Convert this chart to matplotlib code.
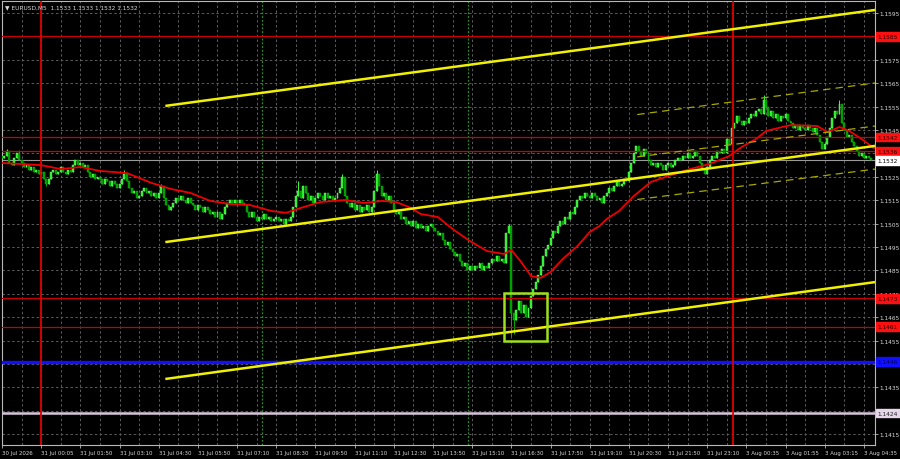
import numpy as np
import matplotlib
matplotlib.use('Agg')
import matplotlib.pyplot as plt
import matplotlib.transforms as mtransforms
from matplotlib.patches import Rectangle

#-------------------------------------------------------------------------------
# EURUSD M5 closes, one value per bar
closes = [
    1.1533, 1.1534, 1.1536, 1.1531, 1.1530, 1.1533, 1.1535, 1.1532,
    1.1531, 1.1529, 1.1530, 1.1528, 1.1529, 1.1527, 1.1528, 1.1526,
    1.1527, 1.1524, 1.1522, 1.1524,
    1.1527, 1.1528, 1.1526, 1.1527, 1.1529, 1.1527, 1.1526, 1.1528, 1.1527,
    1.1530, 1.1532, 1.1530, 1.1531, 1.1529, 1.1530,
    1.1527, 1.1525, 1.1526, 1.1524, 1.1525,
    1.1524, 1.1522, 1.1524, 1.1523, 1.1521, 1.1523, 1.1522, 1.1520, 1.1522, 1.1524, 1.1526, 1.1523,
    1.1520, 1.1518, 1.1519, 1.1516, 1.1517,
    1.1519, 1.1520, 1.1518, 1.1519, 1.1517, 1.1518, 1.1516, 1.1518, 1.1521,
    1.1516, 1.1513, 1.1511, 1.1512,
    1.1514, 1.1516, 1.1515, 1.1517, 1.1515, 1.1514, 1.1516, 1.1514,
    1.1513, 1.1511, 1.1513, 1.1512, 1.1510, 1.1512, 1.1511, 1.1509,
    1.1510, 1.1508, 1.1510, 1.1507, 1.1509, 1.1512,
    1.1514, 1.1515, 1.1514, 1.1515, 1.1514, 1.1515, 1.1514, 1.1513,
    1.1510, 1.1508, 1.1510,
    1.1508, 1.1506, 1.1508, 1.1507, 1.1509, 1.1507, 1.1508, 1.1506,
    1.1507, 1.1508, 1.1506, 1.1507, 1.1505, 1.1507, 1.1506, 1.1508,
    1.1512, 1.1517, 1.1519,
    1.1516, 1.1521, 1.1518, 1.1515, 1.1517, 1.1514, 1.1516, 1.1518,
    1.1517, 1.1515, 1.1518, 1.1516, 1.1517, 1.1515, 1.1516, 1.1518,
    1.1520, 1.1525, 1.1517,
    1.1514, 1.1512, 1.1514, 1.1511, 1.1513, 1.1510, 1.1512, 1.1511, 1.1513, 1.1510, 1.1512,
    1.1519, 1.1526, 1.1521, 1.1517,
    1.1518, 1.1515, 1.1517, 1.1514,
    1.1511, 1.1509, 1.1510, 1.1507, 1.1508, 1.1505, 1.1506,
    1.1504, 1.1506, 1.1503, 1.1505, 1.1503, 1.1504, 1.1502, 1.1504, 1.1505, 1.1503, 1.1502,
    1.1500, 1.1501, 1.1498, 1.1496, 1.1497, 1.1494,
    1.1493, 1.1491, 1.1492, 1.1489, 1.1487, 1.1488, 1.1485,
    1.1487, 1.1485, 1.1487, 1.1486, 1.1488, 1.1485, 1.1487, 1.1486,
    1.1488, 1.1490, 1.1489, 1.1491, 1.1489, 1.1490, 1.1488,
    1.1501, 1.1504, 1.1467,
    1.1464, 1.1468, 1.1472, 1.1467, 1.1470, 1.1465,
    1.1469, 1.1474, 1.1477, 1.1480,
    1.1483, 1.1487, 1.1491, 1.1494,
    1.1496, 1.1499, 1.1502, 1.1501, 1.1504, 1.1506, 1.1505, 1.1508,
    1.1507, 1.1510, 1.1509, 1.1512,
    1.1515, 1.1517, 1.1516, 1.1518, 1.1517, 1.1516, 1.1518, 1.1517, 1.1515,
    1.1516, 1.1514, 1.1517, 1.1518,
    1.1520, 1.1519, 1.1521, 1.1523, 1.1521, 1.1522, 1.1524, 1.1523,
    1.1527, 1.1531,
    1.1535, 1.1538, 1.1536, 1.1534, 1.1537, 1.1535,
    1.1532, 1.1530, 1.1531, 1.1529, 1.1531, 1.1530, 1.1528, 1.1530, 1.1531, 1.1529, 1.1530, 1.1532,
    1.1533, 1.1532, 1.1534, 1.1533, 1.1535, 1.1533, 1.1534, 1.1536, 1.1534,
    1.1531, 1.1528, 1.1526, 1.1529,
    1.1532, 1.1534, 1.1533, 1.1536, 1.1535, 1.1537,
    1.1535, 1.1541, 1.1539, 1.1546,
    1.1548, 1.1551, 1.1549, 1.1547, 1.1549, 1.1548, 1.1550,
    1.1552, 1.1551, 1.1553, 1.1554, 1.1552,
    1.1558, 1.1555,
    1.1551, 1.1553, 1.1550, 1.1552, 1.1549, 1.1551, 1.1550, 1.1552, 1.1549,
    1.1548, 1.1546, 1.1547, 1.1545, 1.1547, 1.1546, 1.1545, 1.1547, 1.1546, 1.1544, 1.1546,
    1.1543, 1.1540, 1.1537, 1.1539, 1.1542,
    1.1546, 1.1550, 1.1553, 1.1552, 1.1556,
    1.1548, 1.1545, 1.1542, 1.1543, 1.1540,
    1.1538, 1.1536, 1.1534, 1.1535,
    1.1533, 1.1534, 1.1533, 1.1532,
]
first_open = 1.1534

# wick extremes that stick out past the bodies
spike_hi = {2: 1.1537, 7: 1.15365, 50: 1.1528, 65: 1.1522, 121: 1.1523, 139: 1.1526,
            153: 1.1528, 207: 1.1505, 311: 1.1560, 342: 1.1558}
spike_lo = {18: 1.1521, 208: 1.1457, 209: 1.1458}

# moving average (red), read at sample bars
ma_bars = [0, 16, 24, 32, 40, 51, 61, 69, 77, 85, 93, 101, 110, 116, 122, 130, 140, 148,
           155, 161, 167, 171, 178, 184, 191, 198, 205, 208, 212, 216, 220, 224, 229, 235,
           240, 244, 247, 252, 258, 265, 272, 281, 289, 297, 302, 308, 312, 322, 333, 337,
           342, 346, 351, 356]
ma_vals = [1.15309, 1.15300, 1.15283, 1.15292, 1.15275, 1.15266, 1.15224, 1.15198, 1.15181,
           1.15147, 1.15134, 1.15130, 1.15104, 1.15096, 1.15117, 1.15142, 1.15151, 1.15138,
           1.15147, 1.15142, 1.15117, 1.15091, 1.15078, 1.15027, 1.14976, 1.14933, 1.14920,
           1.14937, 1.14886, 1.14826, 1.14818, 1.14843, 1.14899, 1.14954, 1.15014, 1.15040,
           1.15070, 1.15104, 1.15168, 1.15228, 1.15253, 1.15283, 1.15305, 1.15339, 1.15377,
           1.15412, 1.15446, 1.15471, 1.15467, 1.15441, 1.15463, 1.15446, 1.15412, 1.15373]

# axis labels
time_labels = ["30 Jul 2026", "31 Jul 00:05", "31 Jul 01:50", "31 Jul 03:10", "31 Jul 04:30",
               "31 Jul 05:50", "31 Jul 07:10", "31 Jul 08:30", "31 Jul 09:50", "31 Jul 11:10",
               "31 Jul 12:30", "31 Jul 13:50", "31 Jul 15:10", "31 Jul 16:30", "31 Jul 17:50",
               "31 Jul 19:10", "31 Jul 20:30", "31 Jul 21:50", "31 Jul 23:10", "3 Aug 00:35",
               "3 Aug 01:55", "3 Aug 03:15", "3 Aug 04:35"]
price_ticks = [1.1415, 1.1425, 1.1435, 1.1445, 1.1455, 1.1465, 1.1475, 1.1485, 1.1495, 1.1505,
               1.1515, 1.1525, 1.1535, 1.1545, 1.1555, 1.1565, 1.1575, 1.1585, 1.1595]
# scale labels hidden behind the level boxes
covered_ticks = [1.1425, 1.1445, 1.1535, 1.1585]

# horizontal levels: price, line colour, box colour, text colour
levels = [
    (1.1585, '#c80000', '#ff1010', '#200000'),
    (1.1542, '#d00000', '#ff1010', '#200000'),
    (1.1536, '#d00000', '#ff1010', '#200000'),
    (1.1473, '#c80000', '#ff1010', '#200000'),
    (1.1461, '#c80000', '#ff1010', '#200000'),
]
blue_level = 1.1446
lilac_level = 1.1424
bid_price = 1.1532

# chart objects (bar, price) pairs
day_lines = [16, 298.4]
session_lines = [106.3, 190.4]
trend_solid = [((66.7, 1.15553), (356.5, 1.15963)),
               ((66.7, 1.14971), (356.5, 1.15382)),
               ((66.7, 1.14386), (356.5, 1.14800))]
trend_dash = [((259.4, 1.15516), (356.5, 1.15651)),
              ((259.4, 1.15335), (356.5, 1.15467)),
              ((259.4, 1.15153), (356.5, 1.15283))]
box_bars = (205.2, 222.7)
box_prices = (1.14550, 1.14755)

#-------------------------------------------------------------------------------
fig = plt.figure(figsize=(9, 4.6), dpi=100, facecolor='black')
ax = fig.add_axes([2 / 900, 14 / 460, 873 / 900, 444 / 460])
ax.set_facecolor('black')
ax.set_xlim(0.2, 356.5)
ax.set_ylim(1.141038, 1.160013)

grid_kw = dict(color='#5c5c5c', lw=0.7, ls=(0, (2.5, 2.5)), zorder=1)
for b in range(0, 357, 8):
    ax.axvline(b, **grid_kw)
for p in price_ticks:
    ax.axhline(p, **grid_kw)

# levels
for p, lc, _, _ in levels:
    ax.axhline(p, color=lc, lw=0.9, zorder=5)
ax.axhline(blue_level, color='#1010ff', lw=2.4, zorder=5)
ax.axhline(lilac_level, color='#d8c4dc', lw=1.8, zorder=5)
ax.axhline(bid_price, color='#9a9a9a', lw=0.8, zorder=2)

for b in day_lines:
    ax.axvline(b, color='#e00000', lw=1.3, zorder=5)
for b in session_lines:
    ax.axvline(b, color='#2f8f2f', lw=0.9, ls=(0, (1.5, 1.5)), zorder=1.5)

# candles
closes = np.array(closes)
opens = np.concatenate([[first_open], closes[:-1]])
bars = np.arange(len(closes))
highs = np.maximum(opens, closes)
lows = np.minimum(opens, closes)
for i, v in spike_hi.items():
    highs[i] = max(highs[i], v)
for i, v in spike_lo.items():
    lows[i] = min(lows[i], v)
bull = closes >= opens
body_lo = np.minimum(opens, closes)
body_h = np.maximum(np.abs(closes - opens), 0.00002)

ax.vlines(bars[bull], lows[bull], highs[bull], color='#33ff33', lw=0.7, zorder=3)
ax.vlines(bars[~bull], lows[~bull], highs[~bull], color='#00b400', lw=0.7, zorder=3)
ax.bar(bars[bull], body_h[bull], bottom=body_lo[bull], width=0.8,
       color='#1cf01c', edgecolor='#8cff8c', linewidth=0.3, zorder=3)
ax.bar(bars[~bull], body_h[~bull], bottom=body_lo[~bull], width=0.8,
       color='#009600', edgecolor='#00c800', linewidth=0.3, zorder=3)

# moving average
ax.plot(ma_bars, ma_vals, color='#ee0000', lw=1.3, zorder=4)

# trend channels
for (b0, p0), (b1, p1) in trend_solid:
    ax.plot([b0, b1], [p0, p1], color='#f0f000', lw=1.8, zorder=6, solid_capstyle='butt')
for (b0, p0), (b1, p1) in trend_dash:
    ax.plot([b0, b1], [p0, p1], color='#a8a800', lw=0.9, ls=(0, (6, 4)), zorder=6)

ax.add_patch(Rectangle((box_bars[0], box_prices[0]), box_bars[1] - box_bars[0],
                       box_prices[1] - box_prices[0], fill=False,
                       edgecolor='#9ee01e', lw=1.8, zorder=7))

# axes styling
for s in ax.spines.values():
    s.set_color('#b8b8b8')
    s.set_linewidth(0.8)
ax.yaxis.tick_right()
ax.set_yticks(price_ticks)
ax.set_yticklabels(["" if p in covered_ticks else f"{p:.4f}" for p in price_ticks])
ax.set_xticks(range(0, 353, 16))
ax.set_xticklabels(time_labels)
ax.tick_params(axis='both', colors='#b8b8b8', labelcolor='#d8d8d8', length=2,
               width=0.6, pad=1.5)
ax.tick_params(axis='y', labelsize=4.2)
ax.tick_params(axis='x', labelsize=3.9)
for t in ax.get_xticklabels():
    t.set_horizontalalignment('left')

# price boxes on the right scale
tr = mtransforms.blended_transform_factory(ax.transAxes, ax.transData)
box_kw = dict(transform=tr, ha='left', va='center', fontsize=4.2, zorder=10, clip_on=False)
for p, _, bc, tc in levels:
    ax.text(1.003, p, f"{p:.4f}", color=tc,
            bbox=dict(boxstyle='square,pad=0.3', fc=bc, ec=bc), **box_kw)
ax.text(1.003, blue_level, f"{blue_level:.4f}", color='#000060',
        bbox=dict(boxstyle='square,pad=0.3', fc='#1010ff', ec='#1010ff'), **box_kw)
ax.text(1.003, lilac_level, f"{lilac_level:.4f}", color='#202020',
        bbox=dict(boxstyle='square,pad=0.3', fc='#e6d6ea', ec='#e6d6ea'), **box_kw)
ax.text(1.003, bid_price, f"{bid_price:.4f}", color='black',
        bbox=dict(boxstyle='square,pad=0.3', fc='white', ec='white'), **box_kw)

# symbol header
ax.text(0.004, 0.987, "\u25bc EURUSD,M5  1.1533 1.1533 1.1532 1.1532", transform=ax.transAxes,
        color='#d8d8d8', fontsize=4.2, ha='left', va='center', zorder=10)

fig.savefig('out.png', dpi=100, facecolor='black')
